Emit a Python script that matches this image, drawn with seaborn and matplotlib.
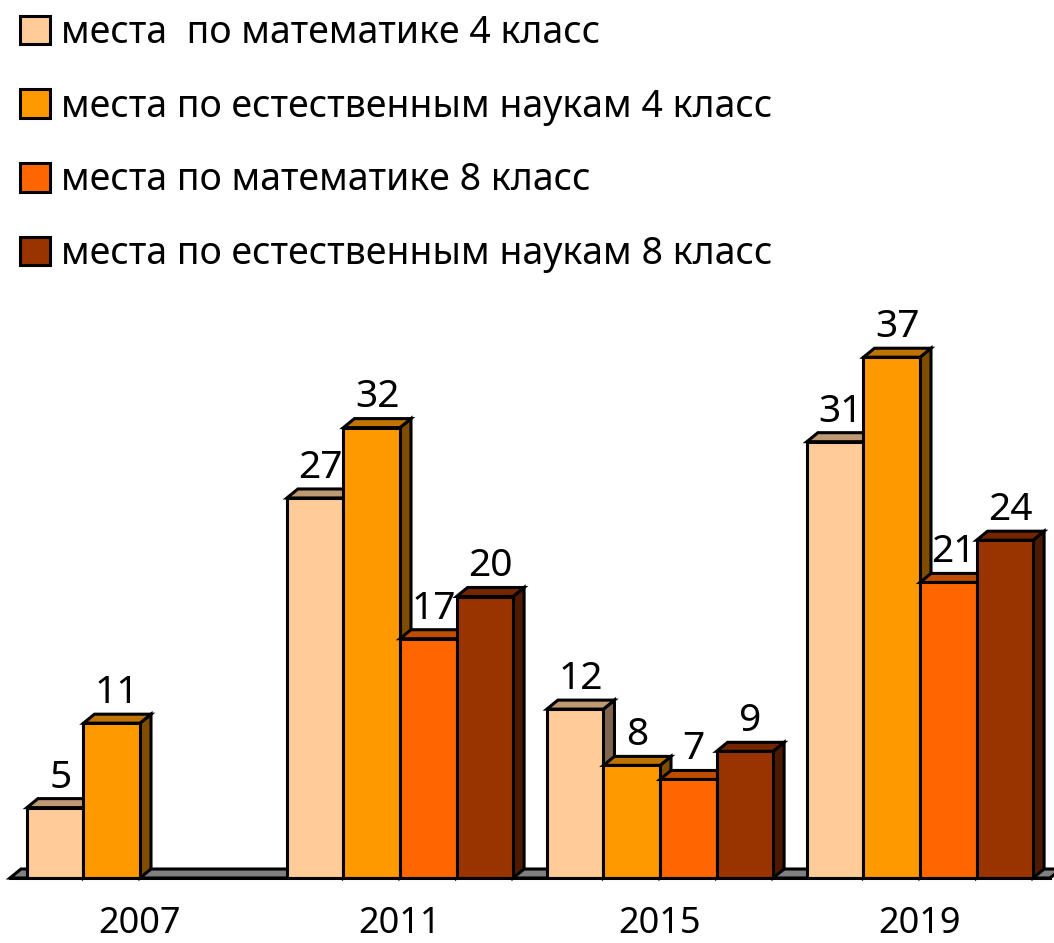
"""
TIMSS places chart: 3D-looking grouped bars
"""

import numpy as np
import pandas as pd
import matplotlib
matplotlib.use("Agg")
import matplotlib.pyplot as plt
from matplotlib.patches import Patch, Polygon
import seaborn as sns

# data
years = ["2007", "2011", "2015", "2019"]
series_names = [
    "места  по математике 4 класс",
    "места по естественным наукам 4 класс",
    "места по математике 8 класс",
    "места по естественным наукам 8 класс",
]
math_4 = [5, 27, 12, 31]
science_4 = [11, 32, 8, 37]
math_8 = [np.nan, 17, 7, 21]
science_8 = [np.nan, 20, 9, 24]
colors = ["#FFCC99", "#FF9900", "#FF6600", "#993300"]

rows = []
for name, vals in zip(series_names, [math_4, science_4, math_8, science_8]):
    for y, v in zip(years, vals):
        rows.append({"year": y, "series": name, "value": v})
df = pd.DataFrame(rows)

sns.set_style("white")
plt.rcParams["font.family"] = ["Noto Sans", "DejaVu Sans"]
plt.rcParams["text.color"] = "black"
plt.rcParams["xtick.color"] = "black"
plt.rcParams["axes.edgecolor"] = "black"

W, H = 1054, 943
LW = 2.2
fig = plt.figure(figsize=(W / 100, H / 100), dpi=100)
ax = fig.add_axes([10 / W, 65 / H, 1040 / W, 563 / H])

sns.barplot(
    data=df, x="year", y="value", hue="series",
    order=years, hue_order=series_names, palette=colors, saturation=1,
    width=0.87, edgecolor="black", linewidth=LW,
    legend=False, ax=ax, err_kws={"linewidth": 0},
)
ax.set_xlim(-0.5, 3.5)
ax.set_ylim(0, 40)

# depth of the pseudo-3D effect, in data units
p0 = ax.transData.transform((0, 0))
p1 = ax.transData.transform((1, 1))
dx = 11 / (p1[0] - p0[0])
dy = 9 / (p1[1] - p0[1])


def shade(c, f):
    r, g, b = matplotlib.colors.to_rgb(c)
    return (r * f, g * f, b * f)


bars = []
for cont, col in zip(ax.containers, colors):
    for bar in cont:
        h = bar.get_height()
        if np.isfinite(h) and h > 0:
            bars.append((bar, col))
bars.sort(key=lambda t: t[0].get_x())

for k, (bar, col) in enumerate(bars):
    x, w, h = bar.get_x(), bar.get_width(), bar.get_height()
    top = Polygon([(x, h), (x + dx, h + dy), (x + w + dx, h + dy), (x + w, h)],
                  closed=True, facecolor=shade(col, 0.75), edgecolor="black",
                  linewidth=LW, joinstyle="miter", zorder=2 + 2 * k, clip_on=False)
    side = Polygon([(x + w, 0), (x + w, h), (x + w + dx, h + dy), (x + w + dx, dy)],
                   closed=True, facecolor=shade(col, 0.5), edgecolor="black",
                   linewidth=LW, joinstyle="miter", zorder=2 + 2 * k, clip_on=False)
    ax.add_patch(side)
    ax.add_patch(top)
    bar.set_zorder(3 + 2 * k)
    ax.annotate(f"{h:.0f}", (x + w / 2 + dx / 2, h + dy), xytext=(0, 8),
                textcoords="offset points", ha="center", va="baseline",
                fontsize=28, zorder=100)

# floor
floor = Polygon([(-0.5, 0), (-0.5 + dx, dy), (3.5 + dx, dy), (3.5, 0)],
                closed=True, facecolor="#808080", edgecolor="black",
                linewidth=LW, zorder=1, clip_on=False)
ax.add_patch(floor)

for s in ["top", "right", "left"]:
    ax.spines[s].set_visible(False)
ax.spines["bottom"].set_linewidth(LW)
ax.spines["bottom"].set_zorder(50)
ax.set_yticks([])
ax.set_xlabel("")
ax.set_ylabel("")
ax.set_xticks(range(len(years)))
ax.set_xticklabels(years, fontsize=26)
ax.set_xticks(np.arange(-0.5, len(years)), minor=True)
ax.tick_params(axis="x", which="major", length=0, pad=20)
ax.tick_params(axis="x", which="minor", length=6, width=LW, direction="out",
               color="black")

handles = [Patch(facecolor=c, edgecolor="black", linewidth=LW) for c in colors]
fig.legend(handles, series_names, loc="upper left",
           bbox_to_anchor=(20 / W, 1 - 14 / H), frameon=False, fontsize=27,
           handlelength=0.8, handleheight=0.8, handletextpad=0.3,
           labelspacing=0.95, borderpad=0, borderaxespad=0)

fig.savefig("out.png", dpi=100)
